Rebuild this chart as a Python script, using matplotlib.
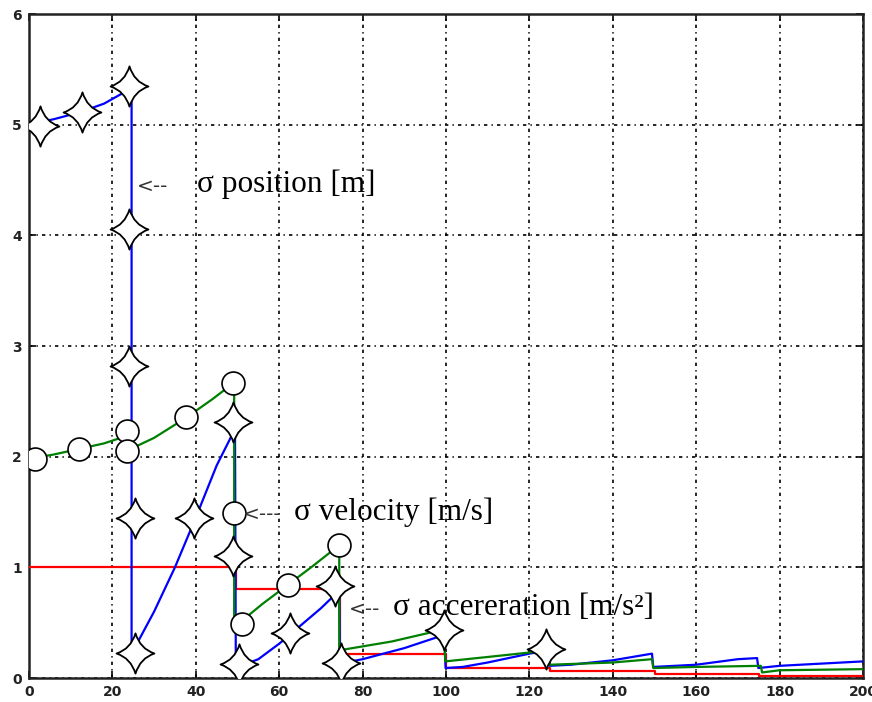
#!/usr/bin/env python3
"""Kalman filter sigma traces (position / velocity / acceleration)."""

import matplotlib
matplotlib.use("Agg")
import matplotlib.pyplot as plt
from matplotlib.path import Path

# sigma position [m] (blue)
POS_T = [0, 6, 12, 18, 24.6, 24.6, 30, 35, 40, 45, 49.4, 49.6, 50.2, 55, 60, 65, 70, 74.4,
         74.6, 80, 90, 99.6, 99.9, 104, 110, 120, 124.6, 124.9, 130, 140, 149.4, 149.7,
         160, 170, 174.6, 174.9, 180, 190, 200]
POS_V = [5.0, 5.05, 5.11, 5.19, 5.33, 0.22, 0.6, 1.0, 1.45, 1.92, 2.25, 0.1, 0.1, 0.17, 0.31,
         0.47, 0.63, 0.79, 0.13, 0.17, 0.27, 0.39, 0.09, 0.1, 0.14, 0.22, 0.25, 0.11, 0.12,
         0.16, 0.22, 0.1, 0.12, 0.17, 0.18, 0.09, 0.11, 0.13, 0.15]

# sigma velocity [m/s] (green)
VEL_T = [0, 6, 12, 18, 24.4, 24.4, 30, 37.6, 44, 49.2, 49.2, 50.5, 56, 62, 68, 74.4, 74.4,
         87, 99.6, 99.8, 110, 120, 124.6, 124.9, 140, 149.4, 149.7, 160, 175.5, 175.8,
         180, 200]
VEL_V = [1.98, 2.02, 2.07, 2.12, 2.2, 2.07, 2.17, 2.35, 2.52, 2.67, 0.55, 0.5, 0.67, 0.84,
         1.01, 1.2, 0.25, 0.33, 0.44, 0.15, 0.19, 0.23, 0.25, 0.12, 0.14, 0.17, 0.09, 0.1,
         0.11, 0.05, 0.07, 0.08]

# sigma acceleration [m/s^2] (red)
ACC_T = [0, 49.7, 49.7, 74.6, 74.6, 100, 100, 125, 125, 150, 150, 175, 175, 200]
ACC_V = [1.0, 1.0, 0.8, 0.8, 0.22, 0.22, 0.09, 0.09, 0.065, 0.065, 0.04, 0.04, 0.02, 0.02]

# marker positions
STAR_T = [2.6, 12.8, 23.9, 23.9, 23.9, 25.5, 25.3, 39.5, 48.9, 48.9, 50.4, 62.7, 73.5,
          74.9, 99.5, 123.9]
STAR_V = [4.99, 5.11, 5.35, 4.06, 2.82, 1.45, 0.23, 1.45, 2.31, 1.1, 0.13, 0.41, 0.83,
          0.14, 0.43, 0.26]
CIRC_T = [1.4, 12.1, 23.4, 23.4, 37.6, 48.9, 49.2, 51.0, 62.1, 74.3]
CIRC_V = [1.98, 2.07, 2.23, 2.05, 2.36, 2.67, 1.49, 0.49, 0.84, 1.2]

LABELS = ["\u03c3 position [m]", "\u03c3 velocity [m/s]", "\u03c3 accereration [m/s\u00b2]"]
LABEL_T = [40.2, 63.6, 87.2]
LABEL_V = [4.46, 1.5, 0.64]
ARROW_T = [25.8, 51.4, 76.6]
ARROW_S = ["<--", "<---", "<--"]


def star_marker():
    c = 0.23
    verts = [(0, 1), (c, c), (0.94, 0), (c, -c), (0, -1), (-c, -c), (-0.94, 0), (-c, c),
             (0, 1), (0, 1)]
    codes = [Path.MOVETO] + [Path.CURVE3] * 8 + [Path.CLOSEPOLY]
    return Path(verts, codes)


def main():
    fig = plt.figure(figsize=(8.72, 7.02), dpi=100)
    ax = fig.add_axes([29 / 872, 24 / 702, 834 / 872, 664 / 702])

    ax.plot(ACC_T, ACC_V, color="#ff0000", lw=1.6, zorder=3)
    ax.plot(POS_T, POS_V, color="#0000ff", lw=1.6, zorder=4)
    ax.plot(VEL_T, VEL_V, color="#008000", lw=1.6, zorder=5)

    ax.plot(CIRC_T, CIRC_V, ls="none", marker="o", ms=16.5, mfc="white", mec="black",
            mew=1.2, zorder=6)
    ax.plot(STAR_T, STAR_V, ls="none", marker=star_marker(), ms=29, mfc="white",
            mec="black", mew=1.3, zorder=7)

    for lab, t, v, at, arr in zip(LABELS, LABEL_T, LABEL_V, ARROW_T, ARROW_S):
        ax.text(t, v, lab, family=["Liberation Serif", "DejaVu Serif"], fontsize=22.5,
                ha="left", va="center", zorder=8)
        ax.text(at, v - 0.02, arr, family="DejaVu Sans", fontsize=14.5, color="#333333",
                ha="left", va="center", zorder=8)

    ax.set_xlim(0, 200)
    ax.set_ylim(0, 6)
    ax.set_xticks(range(0, 201, 20))
    ax.set_yticks(range(0, 7))
    ax.grid(True, color="black", lw=1.2, ls=(0, (2, 2.5, 0.8, 2.5)), zorder=1)
    ax.set_axisbelow(True)
    ax.tick_params(direction="in", length=5, width=1.2, top=True, right=True, pad=5,
                   labelsize=10, labelcolor="#222222")
    for lbl in ax.get_xticklabels() + ax.get_yticklabels():
        lbl.set_fontweight("bold")
    for sp in ax.spines.values():
        sp.set_linewidth(1.8)
        sp.set_color("#222222")

    fig.savefig("out.png", dpi=100)
    plt.close(fig)


if __name__ == "__main__":
    main()
